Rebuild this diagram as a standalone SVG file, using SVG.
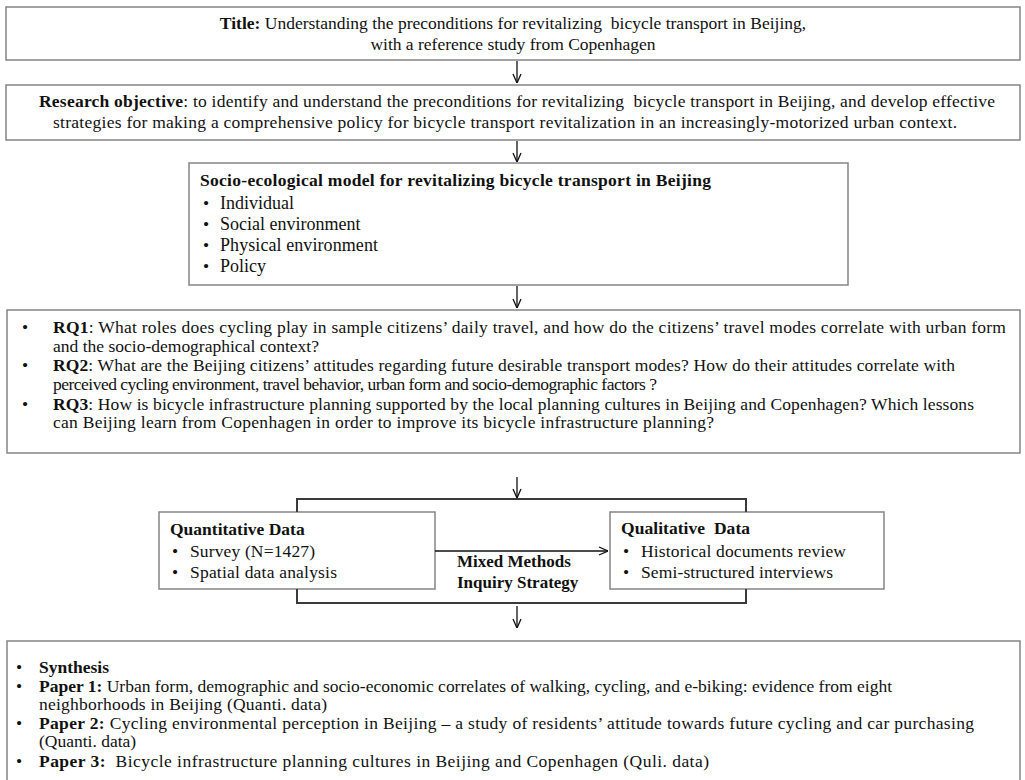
<svg xmlns="http://www.w3.org/2000/svg" width="1025" height="780" viewBox="0 0 1025 780">
<style>
.box{fill:#ffffff;stroke:#858585;stroke-width:1.5}
.t{font-family:"Liberation Serif","Times New Roman",serif;font-size:17.5px;fill:#111}
.b{font-weight:bold}
.c{text-anchor:middle}
.arr{stroke:#111;stroke-width:1.3;fill:none}
.br{stroke:#3a3a3a;stroke-width:2;fill:none}
</style>
<defs>
<marker id="ah" viewBox="0 0 10 10" refX="10" refY="5" markerWidth="10" markerHeight="10" markerUnits="userSpaceOnUse" orient="auto">
<path d="M1,1 L10,5 L1,9" fill="none" stroke="#111" stroke-width="1.3"/>
</marker>
</defs>
<rect width="1025" height="780" fill="#ffffff"/>

<g id="title">
<rect class="box" x="6" y="7" width="1014" height="53"/>
<text class="t c" x="513" y="29" xml:space="preserve"><tspan class="b">Title:</tspan> Understanding the preconditions for revitalizing  bicycle transport in Beijing,</text>
<text class="t c" x="513" y="50">with a reference study from Copenhagen</text>
</g>

<g id="objective">
<rect class="box" x="6" y="85" width="1014" height="55"/>
<text class="t" x="39" y="107" textLength="956" xml:space="preserve"><tspan class="b">Research objective</tspan>: to identify and understand the preconditions for revitalizing  bicycle transport in Beijing, and develop effective</text>
<text class="t" x="53" y="128" textLength="904">strategies for making a comprehensive policy for bicycle transport revitalization in an increasingly-motorized urban context.</text>
</g>

<g id="model">
<rect class="box" x="189" y="163" width="659" height="122"/>
<text class="t b" x="200" y="186" textLength="511">Socio-ecological model for revitalizing bicycle transport in Beijing</text>
<text class="t" x="203" y="209">•</text><text class="t" x="220" y="209" style="font-size:18px">Individual</text>
<text class="t" x="203" y="230">•</text><text class="t" x="220" y="230" style="font-size:18px">Social environment</text>
<text class="t" x="203" y="251">•</text><text class="t" x="220" y="251" textLength="158" style="font-size:18px">Physical environment</text>
<text class="t" x="203" y="272">•</text><text class="t" x="220" y="272" style="font-size:18px">Policy</text>
</g>

<g id="questions">
<rect class="box" x="7" y="310" width="1013" height="143"/>
<text class="t" x="22" y="333">•</text>
<text class="t" x="53" y="333" textLength="953"><tspan class="b">RQ1</tspan>: What roles does cycling play in sample citizens’ daily travel, and how do the citizens’ travel modes correlate with urban form</text>
<text class="t" x="53" y="351.5" textLength="266">and the socio-demographical context?</text>
<text class="t" x="22" y="371">•</text>
<text class="t" x="53" y="371" textLength="902"><tspan class="b">RQ2</tspan>: What are the Beijing citizens’ attitudes regarding future desirable transport modes? How do their attitudes correlate with</text>
<text class="t" x="53" y="389.5" textLength="604">perceived cycling environment, travel behavior, urban form and socio-demographic factors ?</text>
<text class="t" x="22" y="409.5">•</text>
<text class="t" x="53" y="409.5" textLength="921"><tspan class="b">RQ3</tspan>: How is bicycle infrastructure planning supported by the local planning cultures in Beijing and Copenhagen? Which lessons</text>
<text class="t" x="53" y="428" textLength="661">can Beijing learn from Copenhagen in order to improve its bicycle infrastructure planning?</text>
</g>

<g id="quantitative">
<rect class="box" x="159" y="512" width="276" height="77"/>
<text class="t b" x="170" y="535">Quantitative Data</text>
<text class="t" x="172" y="557">•</text><text class="t" x="190" y="557" textLength="125">Survey (N=1427)</text>
<text class="t" x="172" y="578">•</text><text class="t" x="190" y="578" textLength="147">Spatial data analysis</text>
</g>

<g id="qualitative">
<rect class="box" x="610" y="512" width="274" height="77"/>
<text class="t b" x="621" y="534" textLength="129" xml:space="preserve">Qualitative  Data</text>
<text class="t" x="623" y="557">•</text><text class="t" x="641" y="557" textLength="205">Historical documents review</text>
<text class="t" x="623" y="578">•</text><text class="t" x="641" y="578" textLength="192">Semi-structured interviews</text>
</g>

<g id="strategy-label">
<text class="t b" x="457" y="567" style="font-size:17px">Mixed Methods</text>
<text class="t b" x="457" y="588" style="font-size:17px">Inquiry Strategy</text>
</g>

<g id="synthesis">
<rect class="box" x="7" y="641" width="1013" height="145"/>
<text class="t" x="16" y="673">•</text><text class="t b" x="39" y="673">Synthesis</text>
<text class="t" x="16" y="692">•</text>
<text class="t" x="39" y="692" textLength="853"><tspan class="b">Paper 1:</tspan> Urban form, demographic and socio-economic correlates of walking, cycling, and e-biking: evidence from eight</text>
<text class="t" x="39" y="710" textLength="288">neighborhoods in Beijing (Quanti. data)</text>
<text class="t" x="16" y="729">•</text>
<text class="t" x="39" y="729" textLength="935"><tspan class="b">Paper 2:</tspan> Cycling environmental perception in Beijing – a study of residents’ attitude towards future cycling and car purchasing</text>
<text class="t" x="39" y="747">(Quanti. data)</text>
<text class="t" x="16" y="767">•</text>
<text class="t" x="39" y="767" textLength="670" xml:space="preserve"><tspan class="b">Paper 3:</tspan>  Bicycle infrastructure planning cultures in Beijing and Copenhagen (Quli. data)</text>
</g>

<g id="connectors">
<line class="arr" x1="517" y1="61" x2="517" y2="83" marker-end="url(#ah)"/>
<line class="arr" x1="517" y1="141" x2="517" y2="162" marker-end="url(#ah)"/>
<line class="arr" x1="517" y1="286" x2="517" y2="308" marker-end="url(#ah)"/>
<line class="arr" x1="517" y1="477" x2="517" y2="498" marker-end="url(#ah)"/>
<polyline class="br" points="297,512 297,499 746,499 746,512"/>
<polyline class="br" points="297,589 297,603 746,603 746,589"/>
<line class="arr" x1="435" y1="551" x2="608" y2="551" stroke-width="1.8" marker-end="url(#ah)"/>
<line class="arr" x1="517" y1="606" x2="517" y2="628" marker-end="url(#ah)"/>
</g>
</svg>
